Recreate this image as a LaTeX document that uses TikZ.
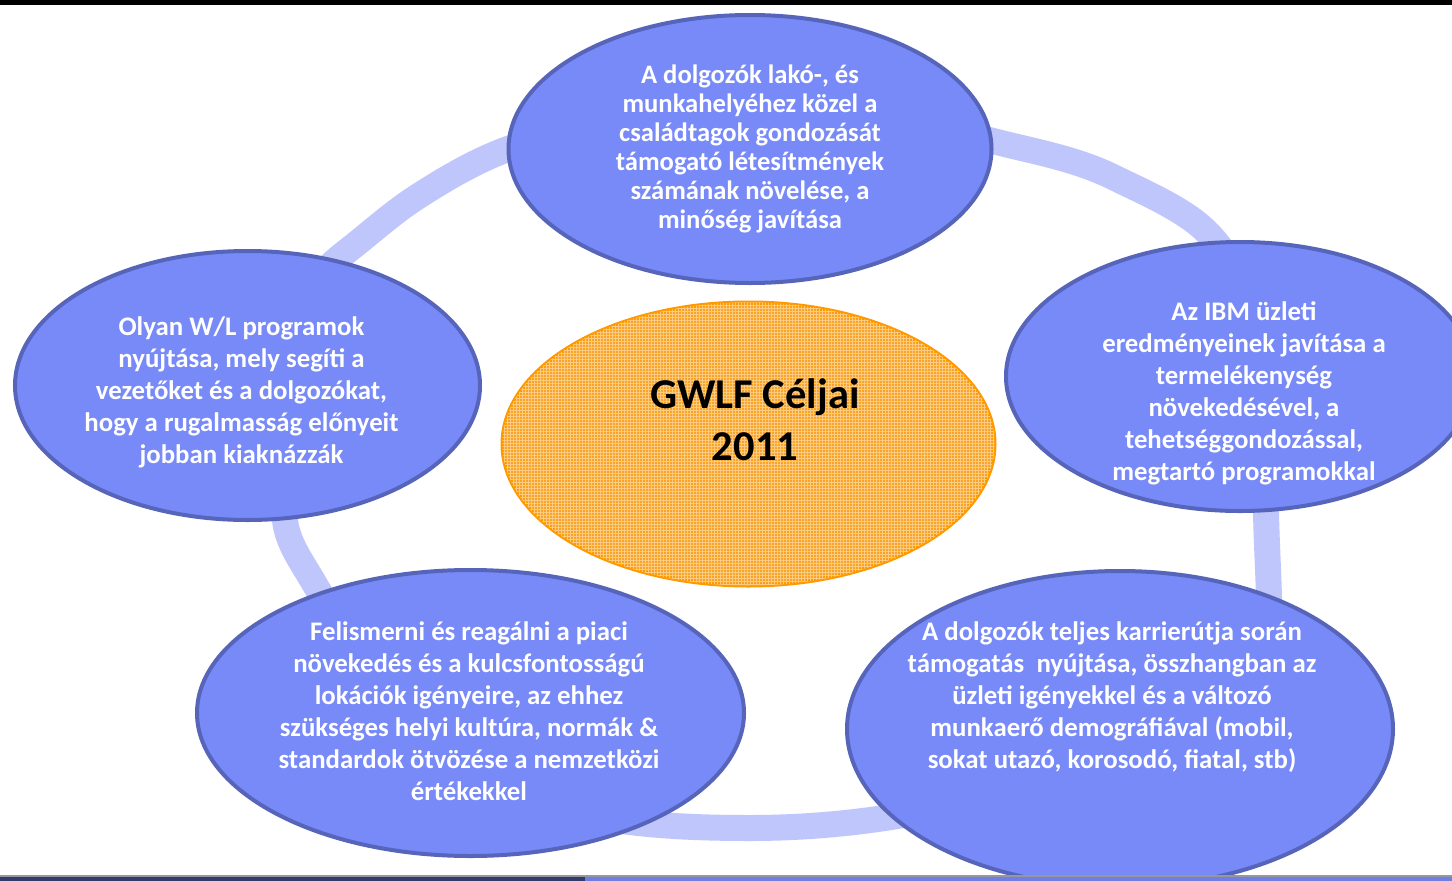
\documentclass[tikz,border=0pt]{standalone}
\usepackage{fontspec}
\setmainfont{Carlito}
\usetikzlibrary{shapes.geometric,patterns}

\definecolor{bubblefill}{RGB}{120,138,248}
\definecolor{bubbleline}{RGB}{86,100,186}
\definecolor{ringcol}{RGB}{191,198,252}
\definecolor{hubfill}{RGB}{249,163,40}
\definecolor{hubgrid}{RGB}{253,203,128}
\definecolor{hubline}{RGB}{255,153,0}
\definecolor{stripgrey}{RGB}{150,150,160}
\definecolor{stripdark}{RGB}{52,58,104}
\definecolor{stripblue}{RGB}{112,126,228}

\tikzset{
  bubble/.style={ellipse, draw=bubbleline, fill=bubblefill, line width=4pt, inner sep=0pt},
  hubshape/.style={ellipse, draw=hubline, fill=hubfill, line width=4pt, inner sep=0pt,
    postaction={pattern=grid, pattern color=hubgrid}},
  % base anchor = baseline of the last line
  goaltext/.style={text=white, align=center, inner sep=0pt, anchor=base,
    font=\bfseries\fontsize{26.8}{32}\selectfont},
  hubtext/.style={text=black, align=center, inner sep=0pt, anchor=base,
    font=\bfseries\fontsize{42.5}{52}\selectfont},
  ringline/.style={draw=ringcol, line width=26pt, line join=round}
}

\begin{document}
\begin{tikzpicture}[x=1pt,y=-1pt]
\useasboundingbox (0,0) rectangle (1452,881);
\fill[white] (0,0) rectangle (1452,881);

% connecting cycle behind the goals
\draw[ringline] (285,520)
  .. controls (274,410) and (259,319) .. (346,252)
  .. controls (369.7,233.7) and (391.8,213.2) .. (417,197)
  .. controls (445.6,178.6) and (476,160.6) .. (508,149)
  .. controls (594.5,117.7) and (688,110) .. (780,110)
  .. controls (852,110) and (923,123) .. (993,141)
  .. controls (1033.7,151.5) and (1075.2,158.5) .. (1113,177)
  .. controls (1139,189.8) and (1166.2,201.5) .. (1190,218)
  .. controls (1272,275) and (1264,413) .. (1266,513)
  .. controls (1266.6,541) and (1268.2,569) .. (1269,597)
  .. controls (1273.5,747) and (1048.5,779) .. (903,815)
  .. controls (852.8,823.7) and (801,828) .. (750,828)
  .. controls (710,828) and (669.6,826.8) .. (630,822)
  .. controls (501,806) and (379,696) .. (314,583)
  .. controls (302.5,563) and (287.3,543) .. (285,520) -- cycle;

% central hub
\node[hubshape, minimum width=492pt, minimum height=283pt] (hub) at (748.5,444) {};
\node[hubtext] (hubtxt) at (755,460) {GWLF Céljai\\2011};

% goal bubbles
\node[bubble, minimum width=483pt, minimum height=268pt] (top) at (750,149) {};
\node[bubble, minimum width=465pt, minimum height=269pt] (left) at (247.5,385.5) {};
\node[bubble, minimum width=468pt, minimum height=269pt] (right) at (1240,376.5) {};
\node[bubble, minimum width=547pt, minimum height=286pt] (botleft) at (470.5,713) {};
\node[bubble, minimum width=546pt, minimum height=316pt] (botright) at (1120,729) {};

\node[goaltext, font=\bfseries\fontsize{26.6}{29}\selectfont] (toptxt) at (750,228)
  {A dolgozók lakó-, és\\munkahelyéhez közel a\\családtagok gondozását\\támogató létesítmények\\számának növelése, a\\minőség javítása};
\node[goaltext] (lefttxt) at (241.5,463)
  {Olyan W/L programok\\nyújtása, mely segíti a\\vezetőket és a dolgozókat,\\hogy a rugalmasság előnyeit\\jobban kiaknázzák};
\node[goaltext] (righttxt) at (1244,480)
  {Az IBM üzleti\\eredményeinek javítása a\\termelékenység\\növekedésével, a\\tehetséggondozással,\\megtartó programokkal};
\node[goaltext] (bltxt) at (469,800)
  {Felismerni és reagálni a piaci\\növekedés és a kulcsfontosságú\\lokációk igényeire, az ehhez\\szükséges helyi kultúra, normák \&\\standardok ötvözése a nemzetközi\\értékekkel};
\node[goaltext] (brtxt) at (1112,768)
  {A dolgozók teljes karrierútja során\\támogatás\ \ nyújtása, összhangban az\\üzleti igényekkel és a változó\\munkaerő demográfiával (mobil,\\sokat utazó, korosodó, fiatal, stb)};

% frame strips
\fill[black] (0,0) rectangle (1452,5);
\fill[stripgrey] (0,875) rectangle (1452,877);
\fill[stripdark] (0,877) rectangle (585,881);
\fill[stripblue] (585,877) rectangle (1452,881);
\end{tikzpicture}
\end{document}
